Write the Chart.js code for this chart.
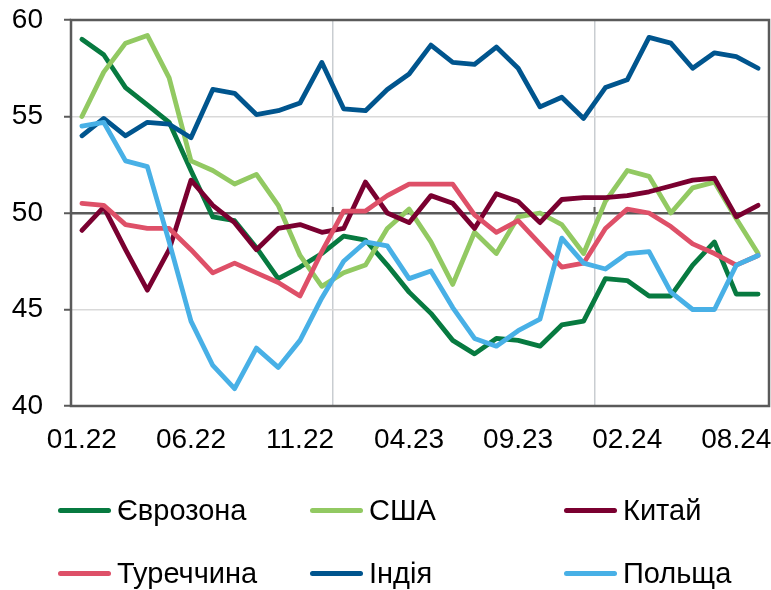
<!DOCTYPE html>
<html><head><meta charset="utf-8">
<script src="https://cdn.jsdelivr.net/npm/chart.js@4.4.0/dist/chart.umd.min.js"></script>
<style>
html,body{margin:0;padding:0;background:#fff;}
#wrap{position:relative;width:771px;height:590px;overflow:hidden;}
canvas{position:absolute;left:0;top:0;}
.leg{position:absolute;display:flex;align-items:center;font-family:'Liberation Sans',Arial,sans-serif;font-size:29px;color:#000;white-space:nowrap;line-height:1;}
.leg .ln{display:inline-block;width:53px;height:5px;border-radius:3px;margin-right:6px;}
</style></head><body>
<div id="wrap"><canvas id="c" width="771" height="590"></canvas><div id="legend"></div></div>
<script>
const months = ['01.22','02.22','03.22','04.22','05.22','06.22','07.22','08.22','09.22','10.22','11.22','12.22',
  '01.23','02.23','03.23','04.23','05.23','06.23','07.23','08.23','09.23','10.23','11.23','12.23',
  '01.24','02.24','03.24','04.24','05.24','06.24','07.24','08.24'];
const tickLabels = ['01.22','06.22','11.22','04.23','09.23','02.24','08.24'];
const tickEvery = 5;
const yearStarts = ['01.23','01.24'];

const seriesNames = ['Єврозона','США','Китай','Туреччина','Індія','Польща'];
const eurozone = [59.0,58.2,56.5,55.6,54.7,52.2,49.8,49.6,48.2,46.6,47.2,47.9,48.8,48.6,47.3,45.9,44.8,43.4,42.7,43.5,43.4,43.1,44.2,44.4,46.6,46.5,45.7,45.7,47.3,48.5,45.8,45.8];
const usa      = [55.0,57.3,58.8,59.2,57.0,52.7,52.2,51.5,52.0,50.4,47.8,46.2,46.9,47.3,49.2,50.2,48.5,46.3,49.0,47.9,49.8,50.0,49.4,47.9,50.6,52.2,51.9,50.0,51.3,51.6,49.7,47.9];
const china    = [49.1,50.3,48.1,46.0,48.1,51.7,50.4,49.5,48.1,49.2,49.4,49.0,49.2,51.6,50.0,49.5,50.9,50.5,49.2,51.0,50.6,49.5,50.7,50.8,50.8,50.9,51.1,51.4,51.7,51.8,49.8,50.4];
const turkey   = [50.5,50.4,49.4,49.2,49.2,48.1,46.9,47.4,46.9,46.4,45.7,48.0,50.1,50.1,50.9,51.5,51.5,51.5,49.9,49.0,49.6,48.4,47.2,47.4,49.2,50.2,50.0,49.3,48.4,47.9,47.3,47.8];
const india    = [54.0,54.9,54.0,54.7,54.6,53.9,56.4,56.2,55.1,55.3,55.7,57.8,55.4,55.3,56.4,57.2,58.7,57.8,57.7,58.6,57.5,55.5,56.0,54.9,56.5,56.9,59.1,58.8,57.5,58.3,58.1,57.5];
const poland   = [54.5,54.7,52.7,52.4,48.5,44.4,42.1,40.9,43.0,42.0,43.4,45.6,47.5,48.5,48.3,46.6,47.0,45.1,43.5,43.1,43.9,44.5,48.7,47.4,47.1,47.9,48.0,45.9,45.0,45.0,47.3,47.8];
const seriesValues = [eurozone, usa, china, turkey, india, poland];

const colors = ['#077A40','#92C962','#7A0030','#DE5068','#00558E','#48B0E6'];
const FONT = "'Liberation Sans', Arial, sans-serif";
const DARK = '#5a5a5a';

const datasets = seriesNames.map((n,i)=>({
  label:n, data:seriesValues[i], borderColor:colors[i], backgroundColor:colors[i],
  borderWidth:4.8, pointRadius:0, tension:0, fill:false, order:seriesNames.length-i,
  borderCapStyle:'round', borderJoinStyle:'round'
}));

const frame = {
  id:'frame',
  beforeDatasetsDraw(chart){
    const {ctx, chartArea:a, scales} = chart;
    ctx.save();
    ctx.strokeStyle = DARK; ctx.lineWidth = 2.5;
    ctx.strokeRect(a.left, a.top, a.right-a.left, a.bottom-a.top);
    const y50 = scales.y.getPixelForValue(50);
    ctx.lineWidth = 2;
    yearStarts.forEach(m=>{
      const idx = months.indexOf(m);
      const x = (scales.x.getPixelForValue(idx-1)+scales.x.getPixelForValue(idx))/2;
      ctx.beginPath(); ctx.moveTo(x, y50); ctx.lineTo(x, y50-6); ctx.stroke();
    });
    ctx.restore();
  }
};

new Chart(document.getElementById('c'), {
  type:'line',
  data:{labels:months, datasets},
  options:{
    responsive:false, animation:false, events:[],
    layout:{padding:{left:0,right:2,top:20,bottom:124}},
    plugins:{legend:{display:false}, tooltip:{enabled:false}},
    scales:{
      x:{
        type:'category', offset:true,
        border:{display:false},
        grid:{offset:true, drawTicks:false,
          color:(c)=> (c.index!==undefined && yearStarts.includes(months[c.index])) ? '#c9cdd1' : 'rgba(0,0,0,0)',
          lineWidth:1.5},
        ticks:{autoSkip:false, maxRotation:0, minRotation:0, padding:17, color:'#000',
          font:{family:FONT, size:28},
          callback:(v,idx)=> idx % tickEvery === 0 ? (tickLabels[idx/tickEvery] || '') : ''},
        afterFit(s){ s.height = 60; s.paddingLeft = 0; s.paddingRight = 0; }
      },
      y:{
        min:40, max:60,
        border:{display:false},
        grid:{
          color:(c)=>{ const v=c.tick && c.tick.value; if(v===50) return DARK; if(v===40||v===60) return 'rgba(0,0,0,0)'; return '#d9d9d9'; },
          lineWidth:(c)=> (c.tick && c.tick.value===50) ? 2.5 : 1.5,
          tickColor:DARK, tickLength:7, tickWidth:2
        },
        ticks:{stepSize:5, padding:21, color:'#000', font:{family:FONT, size:28}},
        afterFit(s){ s.width = 71; s.paddingTop = 0; s.paddingBottom = 0; }
      }
    }
  },
  plugins:[frame]
});

const legCols = [58, 310, 564];
const legRows = [510, 573];
const legend = document.getElementById('legend');
seriesNames.forEach((n,i)=>{
  const d = document.createElement('div');
  d.className = 'leg';
  d.style.left = legCols[i%3] + 'px';
  d.style.top = (legRows[Math.floor(i/3)] - 16) + 'px';
  d.style.height = '32px';
  const ln = document.createElement('span'); ln.className='ln'; ln.style.background = colors[i];
  const tx = document.createElement('span'); tx.textContent = n;
  d.appendChild(ln); d.appendChild(tx);
  legend.appendChild(d);
});
</script>
</body></html>
